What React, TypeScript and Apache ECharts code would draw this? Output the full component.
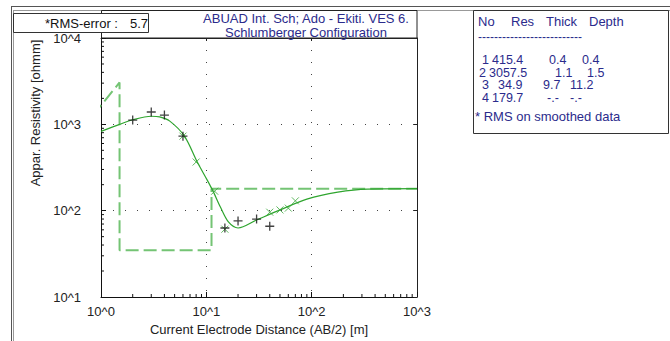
import React, { useEffect, useRef } from "react";
import * as echarts from "echarts";

// ---- Data ----
const titleLines = ["ABUAD Int. Sch; Ado - Ekiti. VES 6.", "Schlumberger Configuration"];
const rmsError = 5.7;

const layerNo = [1, 2, 3, 4];
const layerRes = [415.4, 3057.5, 34.9, 179.7];
const layerThick = [0.4, 1.1, 9.7];
const layerDepth = [0.4, 1.5, 11.2];

// observed field data (+)
const obsAB = [2, 3, 4, 6, 15, 20, 30, 40];
const obsRho = [1120, 1390, 1280, 730, 63, 76, 80, 66];

// smoothed data (x)
const smAB = [6, 8, 12, 15, 40, 50, 60, 70];
const smRho = [730, 366, 168, 61, 96, 102, 107, 130];

// calculated model curve
const calcAB = [1, 1.5, 2, 3, 3.6, 4.5, 6.2, 8.2, 10.2, 11.7, 13.6, 16.2, 20, 30, 50, 90, 177, 340, 1000];
const calcRho = [830, 1000, 1130, 1240, 1220, 1090, 730, 366, 226, 164, 110, 74, 63, 78, 102, 136, 164, 178, 179.7];

const xMin = 1, xMax = 1000, yMin = 10, yMax = 10000;

// ---- Layout / style ----
const FONT = "'Liberation Sans', Arial, sans-serif";
const BLUE = "#2b2b8c";
const noX = [482, 479, 482, 482];
const resX = [492, 489, 498, 492];
const thickX = [549, 555, 543, 547];
const depthX = [582, 587, 570, 570];
const rowY = [60, 72.5, 85, 97.5];

function buildOption() {
  const modelPts: number[][] = [[layerDepth[0], layerRes[0]]];
  for (let i = 1; i < layerRes.length; i++) {
    const d = i < layerDepth.length ? layerDepth[i] : xMax;
    if (i > 1) modelPts.push([layerDepth[i - 1], layerRes[i]]);
    modelPts.push([d, layerRes[i]]);
  }
  const calc = calcAB.map((x, i) => [x, calcRho[i]]);
  const obs = obsAB.map((x, i) => [x, obsRho[i]]);
  const sm = smAB.map((x, i) => [x, smRho[i]]);

  const minorX: number[][] = [];
  for (let e = 0; e < 3; e++) for (let m = 2; m <= 9; m++) minorX.push([m * Math.pow(10, e), yMin]);
  const minorY: number[][] = [];
  for (let e = 1; e < 4; e++) for (let m = 2; m <= 9; m++) minorY.push([xMin, m * Math.pow(10, e)]);

  const fmt = (v: number) => "10^" + Math.round(Math.log10(v));
  const dotted = { show: true, lineStyle: { color: "#444", width: 1, type: [1, 11] as any } };

  const thickStr = layerThick.map((v) => v.toFixed(1)).concat(["-.-"]);
  const depthStr = layerDepth.map((v) => v.toFixed(1)).concat(["-.-"]);

  const txt = (text: string, x: number, y: number, extra: any = {}) => ({
    type: "text",
    x,
    y,
    z: 20,
    style: {
      text,
      fill: extra.fill || BLUE,
      fontSize: extra.fontSize || 13,
      fontFamily: FONT,
      align: extra.align || "left",
      verticalAlign: "middle",
    },
  });

  const graphic: any[] = [
    { type: "line", shape: { x1: 11, y1: 6.5, x2: 670, y2: 6.5 }, style: { stroke: "#555", lineWidth: 1 } },
    { type: "line", shape: { x1: 11.5, y1: 6, x2: 11.5, y2: 341 }, style: { stroke: "#555", lineWidth: 1 } },
    { type: "line", shape: { x1: 13, y1: 10.5, x2: 670, y2: 10.5 }, style: { stroke: "#999", lineWidth: 1 } },
    { type: "line", shape: { x1: 13.5, y1: 10, x2: 13.5, y2: 341 }, style: { stroke: "#999", lineWidth: 1 } },
    { type: "rect", shape: { x: 101.5, y: 10.5, width: 315.5, height: 27.5 }, style: { fill: "none", stroke: "#222", lineWidth: 1 } },
    { type: "rect", z: 15, shape: { x: 13.5, y: 13.5, width: 135, height: 19 }, style: { fill: "#fff", stroke: "#333", lineWidth: 1 } },
    txt("*RMS-error :", 45, 23, { fill: "#111" }),
    txt(rmsError.toFixed(1), 130, 23, { fill: "#111" }),
    txt(titleLines[0], 306, 18, { align: "center" }),
    txt(titleLines[1], 306, 32, { align: "center" }),
    { type: "rect", shape: { x: 473.5, y: 10.5, width: 195, height: 123 }, style: { fill: "#fff", stroke: "#333", lineWidth: 1 } },
    txt("No", 478, 21),
    txt("Res", 511, 21),
    txt("Thick", 546, 21),
    txt("Depth", 589, 21),
    txt("-".repeat(26), 478, 37, { fontSize: 12 }),
    txt("* RMS on smoothed data", 475, 116),
    {
      type: "text",
      x: 35,
      y: 113,
      rotation: Math.PI / 2,
      style: { text: "Appar. Resistivity [ohmm]", fill: "#222", fontSize: 13, fontFamily: FONT, align: "center", verticalAlign: "middle" },
    },
  ];
  layerNo.forEach((n, i) => {
    graphic.push(txt(String(n), noX[i], rowY[i], { fontSize: 12.5 }));
    graphic.push(txt(layerRes[i].toFixed(1), resX[i], rowY[i], { fontSize: 12.5 }));
    graphic.push(txt(thickStr[i], thickX[i], rowY[i], { fontSize: 12.5 }));
    graphic.push(txt(depthStr[i], depthX[i], rowY[i], { fontSize: 12.5 }));
  });

  const tickSeries = (data: number[][], dir: "x" | "y") => ({
    type: "custom",
    xAxisIndex: 0,
    yAxisIndex: 0,
    clip: false,
    silent: true,
    z: 6,
    data,
    renderItem: (_p: any, api: any) => {
      const p = api.coord([api.value(0), api.value(1)]);
      return {
        type: "line",
        shape: dir === "x" ? { x1: p[0], y1: p[1], x2: p[0], y2: p[1] - 3 } : { x1: p[0], y1: p[1], x2: p[0] + 3, y2: p[1] },
        style: { stroke: "#111", lineWidth: 1 },
      };
    },
  });

  return {
    animation: false,
    backgroundColor: "#fff",
    textStyle: { fontFamily: FONT },
    grid: { left: 101, top: 38, width: 316, height: 259 },
    graphic,
    xAxis: [
      {
        type: "log",
        logBase: 10,
        min: xMin,
        max: xMax,
        position: "bottom",
        axisLine: { show: true, lineStyle: { color: "#111", width: 1 } },
        axisTick: { show: true, inside: true, length: 5, lineStyle: { color: "#111" } },
        axisLabel: { formatter: fmt, color: "#222", fontSize: 13, fontFamily: FONT, margin: 8 },
        splitLine: dotted,
        name: "Current Electrode Distance (AB/2) [m]",
        nameLocation: "middle",
        nameGap: 25,
        nameTextStyle: { color: "#222", fontSize: 13, fontFamily: FONT },
      },
      {
        type: "log",
        logBase: 10,
        min: xMin,
        max: xMax,
        position: "top",
        axisLine: { show: true, lineStyle: { color: "#222", width: 1 } },
        axisTick: { show: true, inside: true, length: 3, lineStyle: { color: "#222" } },
        axisLabel: { show: false },
        splitLine: { show: false },
      },
    ],
    yAxis: [
      {
        type: "log",
        logBase: 10,
        min: yMin,
        max: yMax,
        position: "left",
        axisLine: { show: true, lineStyle: { color: "#111", width: 1 } },
        axisTick: { show: true, inside: true, length: 5, lineStyle: { color: "#111" } },
        axisLabel: { formatter: fmt, color: "#222", fontSize: 13, fontFamily: FONT, margin: 20 },
        splitLine: dotted,
      },
      {
        type: "log",
        logBase: 10,
        min: yMin,
        max: yMax,
        position: "right",
        axisLine: { show: true, lineStyle: { color: "#222", width: 1 } },
        axisTick: { show: true, inside: true, length: 3, lineStyle: { color: "#222" } },
        axisLabel: { show: false },
        splitLine: { show: false },
      },
    ],
    series: [
      {
        name: "Model",
        type: "line",
        data: modelPts,
        symbol: "none",
        clip: true,
        z: 2,
        lineStyle: { color: "#74c474", width: 2, type: [13, 5] as any },
      },
      {
        name: "Calculated",
        type: "line",
        data: calc,
        symbol: "none",
        smooth: 0.3,
        clip: true,
        z: 3,
        lineStyle: { color: "#2fa52f", width: 1.2 },
      },
      {
        name: "Smoothed",
        type: "scatter",
        data: sm,
        symbol: "path://M0,0L10,10M10,0L0,10",
        symbolSize: 7,
        z: 4,
        itemStyle: { color: "none", borderColor: "#3aa83a", borderWidth: 1 },
      },
      {
        name: "Observed",
        type: "scatter",
        data: obs,
        symbol: "path://M5,0L5,10M0,5L10,5",
        symbolSize: 9,
        z: 5,
        itemStyle: { color: "none", borderColor: "#111", borderWidth: 1.3 },
      },
      tickSeries(minorX, "x"),
      tickSeries(minorY, "y"),
    ],
  };
}

export default function App() {
  const ref = useRef<HTMLDivElement>(null);
  useEffect(() => {
    document.body.style.margin = "0";
    const chart = echarts.init(ref.current!, null, { renderer: "svg" });
    chart.setOption(buildOption() as any);
    return () => chart.dispose();
  }, []);
  return <div ref={ref} style={{ width: 670, height: 341, background: "#fff" }} />;
}
